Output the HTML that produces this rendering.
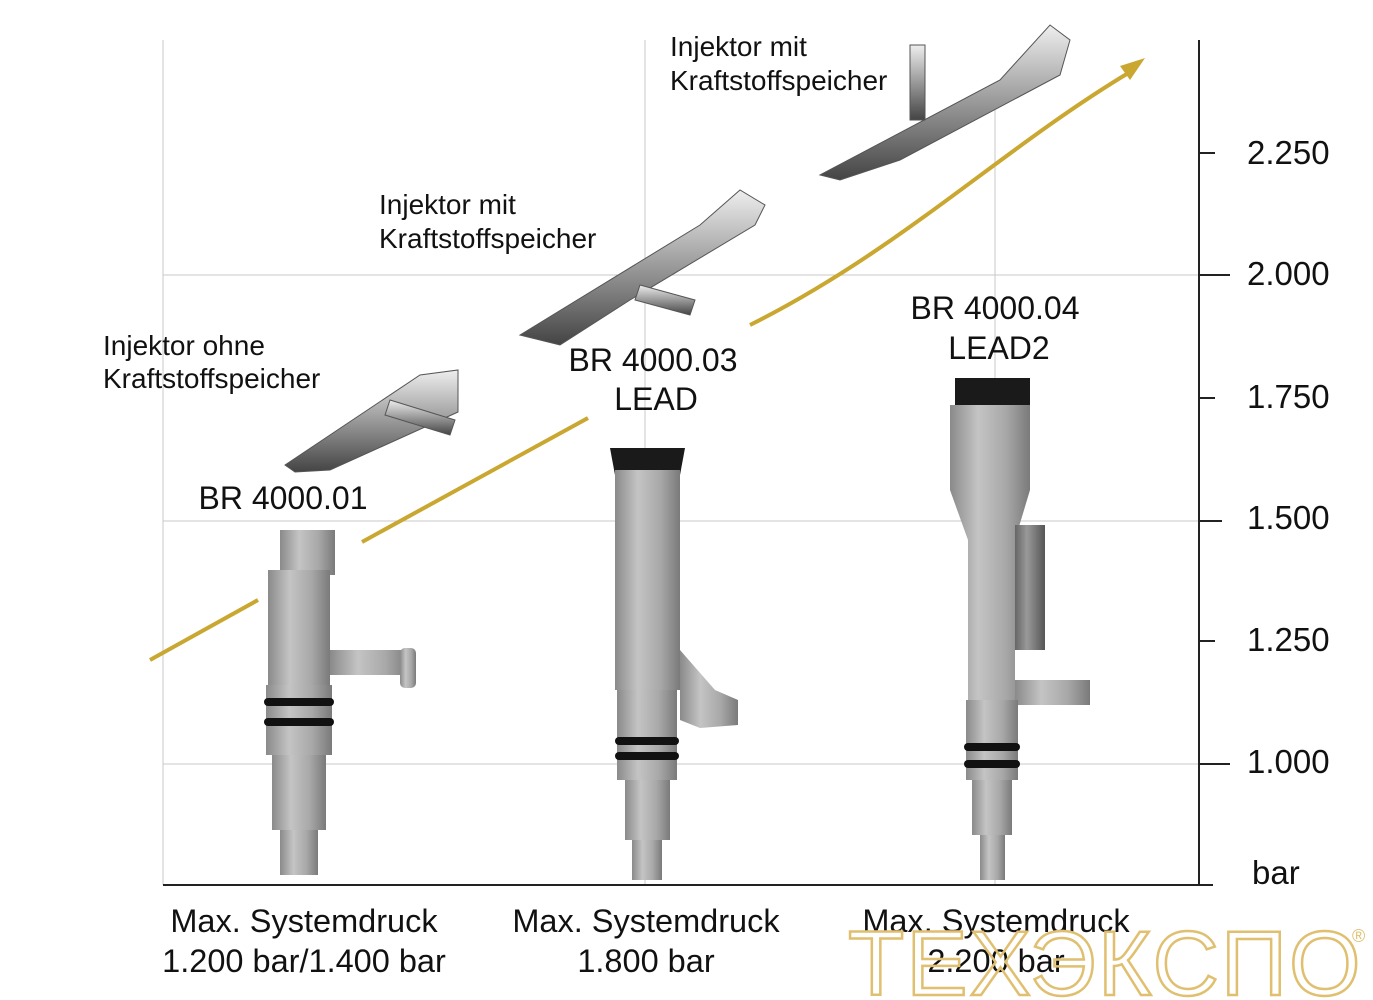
<!DOCTYPE html>
<html><head><meta charset="utf-8"><style>
html,body{margin:0;padding:0;background:#fff;}
svg{display:block}
text{font-family:"Liberation Sans",sans-serif;fill:#111}
</style></head><body>
<svg width="1373" height="1000" viewBox="0 0 1373 1000" xmlns="http://www.w3.org/2000/svg">
<defs>
<linearGradient id="g" x1="0" x2="1" y1="0" y2="0">
<stop offset="0" stop-color="#8a8a8a"/><stop offset="0.35" stop-color="#c4c4c4"/><stop offset="0.7" stop-color="#a8a8a8"/><stop offset="1" stop-color="#7a7a7a"/></linearGradient>
<linearGradient id="gd" x1="0" x2="1" y1="0" y2="0">
<stop offset="0" stop-color="#666"/><stop offset="0.4" stop-color="#999"/><stop offset="1" stop-color="#555"/></linearGradient>
<linearGradient id="gm" x1="0" x2="0" y1="0" y2="1">
<stop offset="0" stop-color="#eee"/><stop offset="0.5" stop-color="#999"/><stop offset="1" stop-color="#444"/></linearGradient>
</defs>
<g stroke="#c8c8c8" stroke-width="1">
<line x1="163" y1="275" x2="1199" y2="275"/>
<line x1="163" y1="521" x2="1199" y2="521"/>
<line x1="163" y1="764" x2="1199" y2="764"/>
<line x1="645" y1="40" x2="645" y2="885"/>
<line x1="995" y1="105" x2="995" y2="885"/>
<line x1="163" y1="40" x2="163" y2="885"/>
</g>
<g stroke="#222" stroke-width="2">
<line x1="163" y1="885" x2="1213" y2="885"/>
<line x1="1199" y1="40" x2="1199" y2="885"/>
<line x1="1199" y1="153" x2="1215" y2="153"/>
<line x1="1199" y1="275" x2="1230" y2="275"/>
<line x1="1199" y1="398" x2="1215" y2="398"/>
<line x1="1199" y1="521" x2="1222" y2="521"/>
<line x1="1199" y1="641" x2="1215" y2="641"/>
<line x1="1199" y1="764" x2="1230" y2="764"/>
</g>
<g font-size="33">
<text x="1247" y="164">2.250</text>
<text x="1247" y="285">2.000</text>
<text x="1247" y="408">1.750</text>
<text x="1247" y="529">1.500</text>
<text x="1247" y="651">1.250</text>
<text x="1247" y="773">1.000</text>
<text x="1252" y="884">bar</text>
</g>
<g stroke="#c9a730" stroke-width="4" fill="none">
<path d="M150 660 L258 600"/>
<path d="M362 542 L588 418"/>
<path d="M750 325 C900 250 1000 150 1130 72"/>
</g>
<polygon points="1145,58 1120,66 1130,80" fill="#c9a730"/>
<rect x="280" y="530" width="55" height="45" fill="url(#g)"/>
<rect x="268" y="570" width="62" height="115" fill="url(#g)"/>
<rect x="330" y="650" width="80" height="25" fill="url(#g)"/>
<rect x="400" y="648" width="16" height="40" rx="5" fill="url(#g)"/>
<rect x="266" y="685" width="66" height="70" fill="url(#g)"/>
<rect x="264" y="698" width="70" height="8" rx="4" fill="#111"/>
<rect x="264" y="718" width="70" height="8" rx="4" fill="#111"/>
<rect x="272" y="755" width="54" height="75" fill="url(#g)"/>
<rect x="280" y="830" width="38" height="45" fill="url(#g)"/>
<path d="M610 448 L685 448 L680 475 L615 475 Z" fill="#1a1a1a"/>
<rect x="615" y="470" width="65" height="220" fill="url(#g)"/>
<path d="M680 650 L715 690 L738 700 L738 725 L700 728 L680 720 Z" fill="url(#g)"/>
<rect x="617" y="690" width="60" height="90" fill="url(#g)"/>
<rect x="615" y="737" width="64" height="8" rx="4" fill="#111"/>
<rect x="615" y="752" width="64" height="8" rx="4" fill="#111"/>
<rect x="625" y="780" width="45" height="60" fill="url(#g)"/>
<rect x="632" y="840" width="30" height="40" fill="url(#g)"/>
<path d="M955 378 L1030 378 L1030 408 L955 408 Z" fill="#1a1a1a"/>
<path d="M950 405 L1030 405 L1030 490 L1015 540 L1015 700 L968 700 L968 540 L950 490 Z" fill="url(#g)"/>
<rect x="1015" y="525" width="30" height="125" fill="url(#gd)"/>
<rect x="1015" y="680" width="75" height="25" fill="url(#g)"/>
<rect x="966" y="700" width="52" height="80" fill="url(#g)"/>
<rect x="964" y="743" width="56" height="8" rx="4" fill="#111"/>
<rect x="964" y="760" width="56" height="8" rx="4" fill="#111"/>
<rect x="972" y="780" width="40" height="55" fill="url(#g)"/>
<rect x="980" y="835" width="25" height="45" fill="url(#g)"/>
<g fill="url(#gm)" stroke="#555" stroke-width="1">
<path d="M285 465 L420 375 L458 370 L458 412 L330 470 L295 472 Z"/>
<path d="M390 400 L455 420 L450 435 L385 415 Z"/>
<path d="M520 335 L700 225 L740 190 L765 205 L755 225 L630 300 L560 345 Z"/>
<path d="M640 285 L695 300 L690 315 L635 300 Z"/>
<path d="M820 175 L1000 80 L1050 25 L1070 40 L1060 75 L900 160 L840 180 Z"/>
<path d="M910 45 L925 45 L925 120 L910 120 Z"/>
</g>
<g font-size="28">
<text x="103" y="355">Injektor ohne</text>
<text x="103" y="388">Kraftstoffspeicher</text>
<text x="379" y="214">Injektor mit</text>
<text x="379" y="248">Kraftstoffspeicher</text>
<text x="670" y="56">Injektor mit</text>
<text x="670" y="90">Kraftstoffspeicher</text>
</g>
<g font-size="32" text-anchor="middle">
<text x="283" y="509">BR 4000.01</text>
<text x="653" y="371">BR 4000.03</text>
<text x="656" y="410">LEAD</text>
<text x="995" y="319">BR 4000.04</text>
<text x="999" y="359">LEAD2</text>
</g>
<g font-size="32.5" text-anchor="middle">
<text x="304" y="932">Max. Systemdruck</text>
<text x="304" y="972">1.200 bar/1.400 bar</text>
<text x="646" y="932">Max. Systemdruck</text>
<text x="646" y="972">1.800 bar</text>
<text x="996" y="932">Max. Systemdruck</text>
<text x="996" y="972">2.200 bar</text>
</g>
<text x="848" y="995" font-size="92" style="fill:none;stroke:#e0c070;stroke-width:2.5;letter-spacing:2px">ТЕХЭКСПО</text>
<text x="1352" y="942" font-size="18" style="fill:#e0c070">®</text>
</svg>
</body></html>
